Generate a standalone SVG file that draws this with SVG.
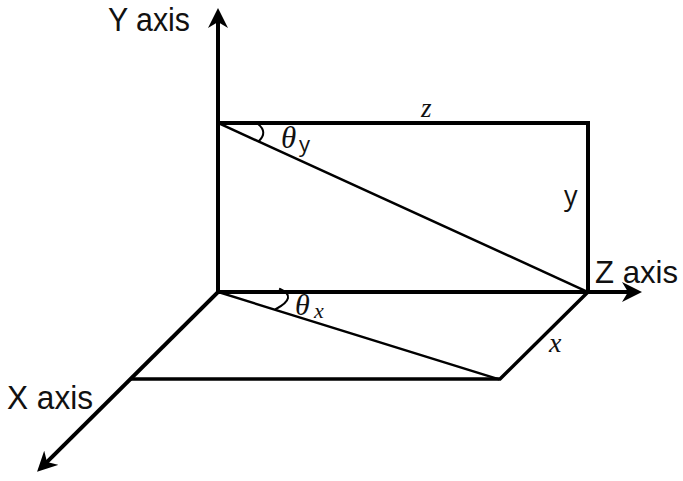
<svg xmlns="http://www.w3.org/2000/svg" width="683" height="481" viewBox="0 0 683 481">
<style>
.ax{font-family:"Liberation Sans","Open Sans",sans-serif;font-size:34px;fill:#111}
.it{font-family:"Liberation Serif","DejaVu Serif",serif;font-style:italic;fill:#111}
.sn{font-family:"Open Sans","Noto Sans",sans-serif;fill:#111}
.ln{stroke:#000;fill:none;stroke-linecap:square}
</style>
<defs>
<marker id="arr" viewBox="0 0 20 20" refX="6" refY="10" markerWidth="20" markerHeight="20" markerUnits="userSpaceOnUse" orient="auto">
<path d="M0,0 L20,10 L0,20 L6,10 Z" fill="#000"/>
</marker>
</defs>
<rect width="683" height="481" fill="#fff"/>
<g id="connectors">
<line class="ln" x1="218" y1="292" x2="218" y2="22" stroke-width="4" marker-end="url(#arr)"/>
<line class="ln" x1="218" y1="292" x2="628" y2="292" stroke-width="4" marker-end="url(#arr)"/>
<line class="ln" x1="218" y1="292" x2="47" y2="462" stroke-width="4" marker-end="url(#arr)"/>
<polyline class="ln" points="218,123 588,123 588,292" stroke-width="4"/>
<line class="ln" x1="218" y1="123" x2="588" y2="292" stroke-width="2.5"/>
<polyline class="ln" points="132,379 500,379 588,292" stroke-width="3.5"/>
<line class="ln" x1="218" y1="292" x2="498" y2="379" stroke-width="2.5"/>
<path class="ln" d="M258,124 Q268,132 259,141" stroke-width="2"/>
<path class="ln" d="M280,289 Q298,297 276,309" stroke-width="2"/>
</g>
<g id="label-yaxis"><text class="ax" x="108" y="31" textLength="82" lengthAdjust="spacingAndGlyphs">Y axis</text></g>
<g id="label-zaxis"><text class="ax" x="595" y="283" font-size="32" style="font-size:32px" textLength="83" lengthAdjust="spacingAndGlyphs">Z axis</text></g>
<g id="label-xaxis"><text class="ax" x="7" y="409" textLength="86" lengthAdjust="spacingAndGlyphs">X axis</text></g>
<g id="label-z"><text class="it" x="421" y="117" font-size="27">z</text></g>
<g id="label-y"><text class="sn" x="564" y="205" font-size="27">y</text></g>
<g id="label-x"><text class="it" x="549" y="352" font-size="28">x</text></g>
<g id="label-thetay"><text class="it" x="281" y="148" font-size="31">θ</text><text class="sn" x="299" y="152" font-size="22">y</text></g>
<g id="label-thetax"><text class="it" x="295" y="315" font-size="30">θ</text><text class="it" x="314" y="318" font-size="22">x</text></g>
</svg>
